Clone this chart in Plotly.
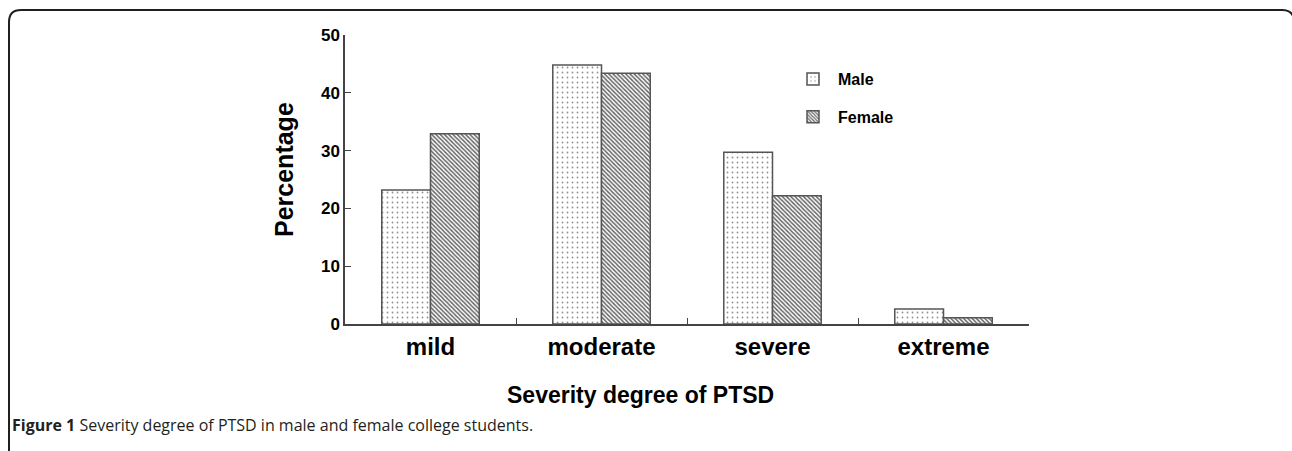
import plotly.graph_objects as go

categories = ["mild", "moderate", "severe", "extreme"]
male = [23.2, 44.8, 29.7, 2.6]
female = [32.9, 43.4, 22.2, 1.1]
y_ticks = [0, 10, 20, 30, 40, 50]

W, H = 1292, 451
def px(x):
    return x / W
def py(y):
    return 1 - y / H

BOLD = "Liberation Sans, Arial"

fig = go.Figure()
fig.add_trace(go.Bar(
    name="Male", x=categories, y=male, legendgroup="m",
    marker=dict(color="white", line=dict(color="#555555", width=1.5),
                pattern=dict(shape=".", fgcolor="#8f8f8f", bgcolor="white",
                             size=5, solidity=0.1, fillmode="replace")),
))
fig.add_trace(go.Bar(
    name="Female", x=categories, y=female, legendgroup="f",
    marker=dict(color="white", line=dict(color="#555555", width=1.5),
                pattern=dict(shape="\\", fgcolor="#666666", bgcolor="white",
                             size=3, solidity=0.5, fillmode="replace")),
))

# rounded frame
r = 12
x0, x1, yt = 9, 1294, 10
path = (f"M {px(x0)},{py(H + 2)} L {px(x0)},{py(yt + r)} "
        f"Q {px(x0)},{py(yt)} {px(x0 + r)},{py(yt)} "
        f"L {px(x1 - r)},{py(yt)} Q {px(x1)},{py(yt)} {px(x1)},{py(yt + r)} "
        f"L {px(x1)},{py(H + 2)}")

fig.update_layout(
    width=W, height=H,
    margin=dict(l=0, r=0, t=0, b=0, autoexpand=False),
    paper_bgcolor="white", plot_bgcolor="white",
    barmode="group", bargap=0.43, bargroupgap=0,
    showlegend=True,
    legend=dict(x=px(788), y=py(62), xanchor="left", yanchor="top",
                font=dict(family=BOLD, size=16, color="black", weight="bold"),
                traceorder="grouped", tracegroupgap=14, bgcolor="rgba(0,0,0,0)",
                itemwidth=40),
    xaxis=dict(domain=[px(345), px(1029)], range=[-0.5, 3.5],
               showline=True, linecolor="#444444", linewidth=1.5,
               ticks="inside", tickson="boundaries", ticklen=6, tickcolor="#444444",
               tickfont=dict(family=BOLD, size=24, color="black", weight="bold"),
               showgrid=False, zeroline=False, automargin=False),
    yaxis=dict(domain=[py(324), py(35)], range=[0, 50],
               tickvals=y_ticks, ticktext=[str(v) for v in y_ticks],
               showline=True, linecolor="#444444", linewidth=1.5,
               ticks="inside", ticklen=6, tickcolor="#444444",
               tickfont=dict(family=BOLD, size=17, color="black", weight="bold"),
               showgrid=False, zeroline=False, automargin=False),
    shapes=[dict(type="path", xref="paper", yref="paper", path=path,
                 line=dict(color="#231f20", width=2))],
    annotations=[
        dict(text="Percentage", xref="paper", yref="paper", x=px(284), y=py(170),
             xanchor="center", yanchor="middle",
             textangle=-90, showarrow=False,
             font=dict(family=BOLD, size=25, color="black", weight="bold")),
        dict(text="Severity degree of PTSD", xref="paper", yref="paper", x=px(640), y=py(395),
             xanchor="center", yanchor="middle", showarrow=False,
             font=dict(family=BOLD, size=23, color="black", weight="bold")),
        dict(text="<b>Figure 1</b> Severity degree of PTSD in male and female college students.",
             xref="paper", yref="paper", x=px(10), y=py(425), xanchor="left", yanchor="middle",
             showarrow=False,
             font=dict(family="Open Sans", size=16, color="#231f20")),
    ],
)

fig.write_html("out.html", config={"displayModeBar": False},
               post_script="document.body.style.margin='0';document.body.style.overflow='hidden';")
